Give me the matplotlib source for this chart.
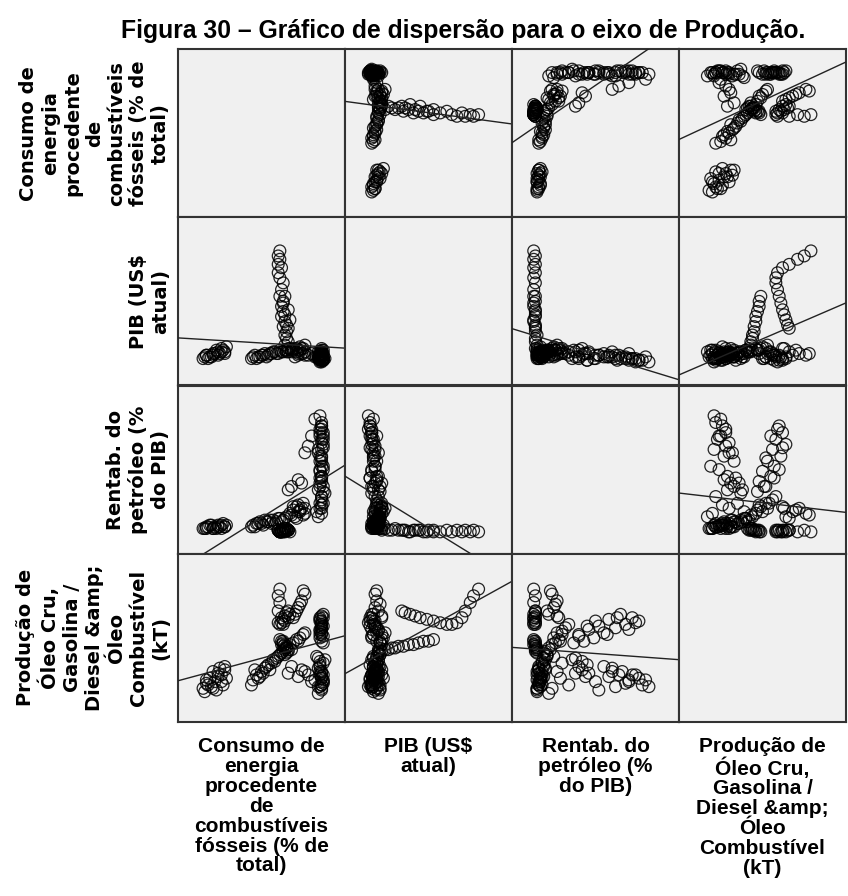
import matplotlib
matplotlib.use("Agg")
import matplotlib.pyplot as plt
import numpy as np


TITLE = "Figura 30 – Gráfico de dispersão para o eixo de Produção."
LABELS = [
    "Consumo de\nenergia\nprocedente\nde\ncombustíveis\nfósseis (% de\ntotal)",
    "PIB (US$\natual)",
    "Rentab. do\npetróleo (%\ndo PIB)",
    "Produção de\nÓleo Cru,\nGasolina /\nDiesel &amp;\nÓleo\nCombustível\n(kT)",
]

# values, on each variable's own 0-1 panel scale
fossil = [
    # group 1
    0.15, 0.16, 0.18, 0.17, 0.20, 0.22, 0.21, 0.24, 0.25, 0.27, 0.26, 0.28, 0.29, 0.23,
    0.17, 0.19, 0.21, 0.24, 0.26, 0.28,
    # group 2
    0.44, 0.45, 0.47, 0.46, 0.49, 0.50, 0.52, 0.54, 0.56, 0.57, 0.59, 0.61, 0.63, 0.65,
    0.67, 0.69, 0.71, 0.73, 0.75, 0.76, 0.68, 0.72,
    0.48, 0.51, 0.53, 0.55, 0.58, 0.60, 0.62, 0.64,
    # group 3a
    0.65, 0.66, 0.64, 0.66, 0.65, 0.64, 0.65, 0.63, 0.64, 0.62, 0.63, 0.62, 0.63, 0.61,
    # group 3b
    0.66, 0.65, 0.67, 0.64, 0.66, 0.63, 0.64, 0.62, 0.63, 0.61, 0.60, 0.62, 0.60, 0.61,
    0.60, 0.61,
    # group 4a
    0.86, 0.85, 0.87, 0.86, 0.84, 0.86, 0.85, 0.87, 0.86, 0.85, 0.84, 0.86, 0.87, 0.85,
    0.86, 0.84, 0.80, 0.78, 0.76, 0.72, 0.68, 0.66, 0.74, 0.82,
    0.85, 0.86, 0.87, 0.84, 0.86, 0.85, 0.88, 0.86, 0.83, 0.87,
    # group 4b
    0.86, 0.85, 0.86, 0.87, 0.86, 0.85, 0.86, 0.87, 0.85, 0.86, 0.86, 0.85, 0.87, 0.86,
    0.85, 0.86, 0.86, 0.85, 0.87, 0.86, 0.85, 0.86, 0.87, 0.86,
    # group 5
    0.70, 0.72, 0.74, 0.76, 0.71, 0.73, 0.75, 0.69,
]
pib = [
    0.16, 0.17, 0.16, 0.18, 0.17, 0.19, 0.18, 0.20, 0.19, 0.21, 0.22, 0.20, 0.23, 0.21,
    0.18, 0.17, 0.19, 0.18, 0.20, 0.19,
    0.16, 0.17, 0.16, 0.18, 0.17, 0.18, 0.19, 0.18, 0.19, 0.20, 0.19, 0.21, 0.20, 0.21,
    0.22, 0.21, 0.22, 0.23, 0.22, 0.24, 0.20, 0.21,
    0.17, 0.18, 0.17, 0.19, 0.20, 0.19, 0.20, 0.21,
    0.20, 0.22, 0.24, 0.26, 0.28, 0.30, 0.32, 0.35, 0.38, 0.41, 0.44, 0.47, 0.50, 0.53,
    0.34, 0.36, 0.39, 0.42, 0.45, 0.49, 0.53, 0.57, 0.61, 0.64, 0.67, 0.70, 0.72, 0.75,
    0.77, 0.80,
    0.15, 0.16, 0.15, 0.17, 0.16, 0.18, 0.17, 0.16, 0.19, 0.18, 0.17, 0.20, 0.19, 0.18,
    0.21, 0.20, 0.19, 0.18, 0.20, 0.19, 0.21, 0.20, 0.22, 0.17,
    0.14, 0.15, 0.16, 0.17, 0.18, 0.15, 0.16, 0.19, 0.17, 0.16,
    0.15, 0.16, 0.17, 0.16, 0.18, 0.17, 0.19, 0.18, 0.16, 0.20, 0.19, 0.17, 0.21, 0.18,
    0.20, 0.22, 0.14, 0.16, 0.15, 0.17, 0.18, 0.15, 0.16, 0.19,
    0.17, 0.18, 0.19, 0.18, 0.20, 0.21, 0.19, 0.22,
]
rentab = [
    0.15, 0.15, 0.16, 0.15, 0.17, 0.16, 0.15, 0.17, 0.16, 0.18, 0.15, 0.16, 0.17, 0.15,
    0.16, 0.17, 0.15, 0.16, 0.17, 0.16,
    0.16, 0.17, 0.18, 0.16, 0.19, 0.18, 0.20, 0.19, 0.18, 0.20, 0.19, 0.21, 0.20, 0.22,
    0.24, 0.26, 0.28, 0.25, 0.30, 0.27, 0.23, 0.29,
    0.18, 0.17, 0.19, 0.20, 0.18, 0.21, 0.19, 0.21,
    0.15, 0.14, 0.15, 0.14, 0.14, 0.15, 0.14, 0.14, 0.13, 0.14, 0.14, 0.13, 0.14, 0.13,
    0.14, 0.14, 0.13, 0.14, 0.14, 0.13, 0.14, 0.13, 0.14, 0.13, 0.14, 0.13, 0.14, 0.13,
    0.14, 0.13,
    0.78, 0.74, 0.70, 0.66, 0.62, 0.58, 0.55, 0.50, 0.46, 0.42, 0.38, 0.34, 0.30, 0.27,
    0.24, 0.22, 0.70, 0.64, 0.60, 0.44, 0.40, 0.38, 0.42, 0.80,
    0.82, 0.76, 0.68, 0.60, 0.52, 0.45, 0.36, 0.29, 0.25, 0.72,
    0.76, 0.72, 0.68, 0.65, 0.62, 0.58, 0.55, 0.52, 0.49, 0.46, 0.43, 0.40, 0.37, 0.34,
    0.30, 0.27, 0.74, 0.70, 0.63, 0.57, 0.50, 0.45, 0.40, 0.32,
    0.22, 0.25, 0.27, 0.24, 0.21, 0.26, 0.23, 0.28,
]
producao = [
    0.20, 0.18, 0.22, 0.25, 0.21, 0.24, 0.30, 0.27, 0.32, 0.22, 0.28, 0.33, 0.26, 0.19,
    0.23, 0.26, 0.20, 0.29, 0.24, 0.31,
    0.22, 0.25, 0.28, 0.31, 0.27, 0.30, 0.32, 0.34, 0.35, 0.37, 0.38, 0.40, 0.42, 0.44,
    0.46, 0.47, 0.49, 0.50, 0.52, 0.53, 0.43, 0.48,
    0.26, 0.29, 0.33, 0.31, 0.36, 0.39, 0.41, 0.40,
    0.41, 0.42, 0.43, 0.43, 0.44, 0.44, 0.45, 0.45, 0.46, 0.46, 0.47, 0.48, 0.48, 0.49,
    0.66, 0.65, 0.64, 0.63, 0.62, 0.61, 0.60, 0.59, 0.58, 0.58, 0.59, 0.62, 0.66, 0.71,
    0.75, 0.79,
    0.22, 0.28, 0.25, 0.30, 0.21, 0.27, 0.33, 0.24, 0.29, 0.36, 0.38, 0.22, 0.35, 0.30,
    0.20, 0.17, 0.24, 0.28, 0.30, 0.27, 0.33, 0.29, 0.31, 0.25,
    0.21, 0.26, 0.23, 0.32, 0.19, 0.34, 0.37, 0.26, 0.39, 0.28,
    0.60, 0.62, 0.58, 0.64, 0.56, 0.61, 0.53, 0.57, 0.50, 0.55, 0.48, 0.52, 0.47, 0.58,
    0.54, 0.63, 0.59, 0.55, 0.62, 0.52, 0.60, 0.57, 0.51, 0.56,
    0.64, 0.68, 0.72, 0.76, 0.66, 0.70, 0.78, 0.62,
]

variables = [np.array(fossil), np.array(pib), np.array(rentab), np.array(producao)]

W, H = 848, 896
X0, X1 = 178, 846
Y0, Y1 = 49, 722
cw = (X1 - X0) / 4
ch = (Y1 - Y0) / 4

fig = plt.figure(figsize=(W / 100, H / 100), dpi=100)
fig.patch.set_facecolor("white")

xs = np.linspace(0, 1, 50)
for i in range(4):
    for j in range(4):
        left = (X0 + j * cw) / W
        bottom = 1 - (Y0 + (i + 1) * ch) / H
        ax = fig.add_axes([left, bottom, cw / W, ch / H])
        ax.set_facecolor("#f0f0f0")
        ax.set_xlim(0, 1)
        ax.set_ylim(0, 1)
        ax.set_xticks([])
        ax.set_yticks([])
        for sp in ax.spines.values():
            sp.set_color("#333333")
            sp.set_linewidth(1.5)
        if i == j:
            continue
        x, y = variables[j], variables[i]
        ax.scatter(x, y, s=72, facecolors="none", edgecolors="black",
                   linewidths=0.9, alpha=0.85, zorder=2)
        slope, icpt = np.polyfit(x, y, 1)
        ax.plot(xs, slope * xs + icpt, color="#222222", lw=1.0, zorder=3)

fig.text(463 / W, 1 - 31 / H, TITLE, ha="center", va="center",
         fontsize=17.8, fontweight="bold", family=["Liberation Sans", "DejaVu Sans"])

for i, lab in enumerate(LABELS):
    yc = 1 - (Y0 + (i + 0.5) * ch) / H
    fig.text(170 / W, yc, lab, rotation=90, ha="right", va="center",
             multialignment="center", fontsize=14, fontweight="bold",
             family=["DejaVu Sans"], linespacing=1.2)

for j, lab in enumerate(LABELS):
    xc = (X0 + (j + 0.5) * cw) / W
    fig.text(xc, 1 - 737 / H, lab, ha="center", va="top", multialignment="center",
             fontsize=15, fontweight="bold",
             family=["Liberation Sans", "DejaVu Sans"], linespacing=1.06)

fig.savefig("out.png", dpi=100)
